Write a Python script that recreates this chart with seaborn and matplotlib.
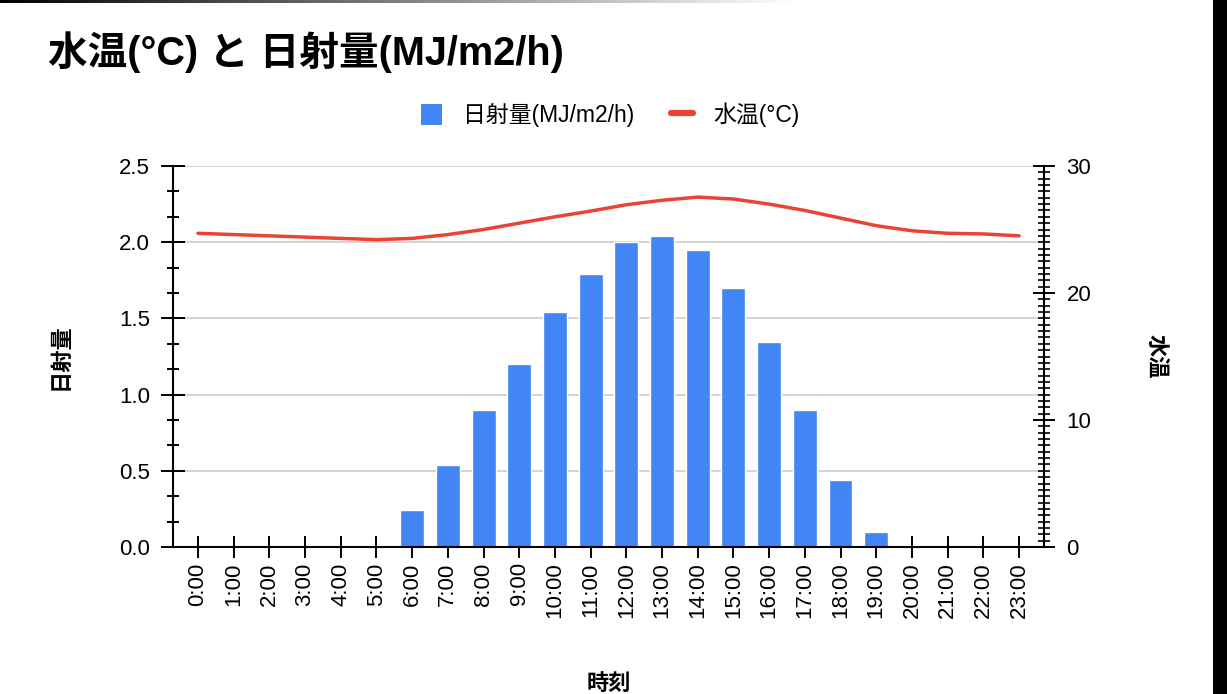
import numpy as np
import pandas as pd
import matplotlib
matplotlib.use("Agg")
import matplotlib.pyplot as plt
import seaborn as sns
from matplotlib.patches import Patch, Rectangle
from matplotlib.lines import Line2D
from matplotlib.ticker import MultipleLocator

# データ
hours = [f"{h}:00" for h in range(24)]
radiation = [0, 0, 0, 0, 0, 0, 0.24, 0.54, 0.90, 1.20, 1.54, 1.79, 2.00, 2.04,
             1.95, 1.70, 1.345, 0.90, 0.44, 0.10, 0, 0, 0, 0]
water_temp = [24.7, 24.6, 24.5, 24.4, 24.3, 24.2, 24.3, 24.6, 25.0, 25.5, 26.0, 26.45,
              26.95, 27.3, 27.55, 27.4, 27.0, 26.5, 25.9, 25.3, 24.9, 24.7, 24.65, 24.5]

df = pd.DataFrame({"時刻": hours, "日射量": radiation, "水温": water_temp,
                   "pos": np.arange(len(hours))})

sns.set_theme(style="white")
plt.rcParams["font.family"] = ["Liberation Sans", "Noto Sans CJK JP", "DejaVu Sans"]
plt.rcParams["text.color"] = "black"
plt.rcParams["axes.labelcolor"] = "black"
plt.rcParams["xtick.color"] = "black"
plt.rcParams["ytick.color"] = "black"

blue = "#4285F4"
red = "#EA4335"

fig = plt.figure(figsize=(12.27, 6.94), dpi=100)
ax = fig.add_axes([173 / 1227, 1 - 547 / 694, (1044 - 173) / 1227, (547 - 166) / 694])

sns.barplot(data=df, x="時刻", y="日射量", order=hours, color=blue, width=0.67,
            saturation=1, ax=ax, zorder=2)
ax.set_xlim(-0.7, 23.7)
ax.set_ylim(0, 2.5)
ax.yaxis.set_major_locator(MultipleLocator(0.5))
ax.yaxis.set_minor_locator(MultipleLocator(0.5 / 3))
ax.grid(axis="y", color="#cccccc", linewidth=1.2, zorder=0)
ax.set_axisbelow(True)

ax2 = ax.twinx()
sns.lineplot(data=df, x="pos", y="水温", color=red, linewidth=2.5, ax=ax2)
ax2.set_ylim(0, 30)
ax2.set_xlim(-0.7, 23.7)
ax2.yaxis.set_major_locator(MultipleLocator(10))
ax2.yaxis.set_minor_locator(MultipleLocator(0.5))

for a in (ax, ax2):
    for s in a.spines.values():
        s.set_visible(False)
ax.spines["left"].set_visible(True)
ax.spines["bottom"].set_visible(True)
ax2.spines["right"].set_visible(True)
for s in ("left", "bottom"):
    ax.spines[s].set_color("black")
    ax.spines[s].set_linewidth(1.5)
ax2.spines["right"].set_color("black")
ax2.spines["right"].set_linewidth(1.5)

ax.tick_params(axis="x", which="major", direction="inout", length=16, width=1.4,
               labelsize=16, labelrotation=90, pad=3, bottom=True)
ax.tick_params(axis="y", which="major", direction="inout", length=17, width=1.4,
               labelsize=16, pad=8, left=True)
ax.tick_params(axis="y", which="minor", direction="inout", length=8.5, width=1.4,
               left=True)
ax2.tick_params(axis="y", which="major", direction="inout", length=16.5, width=1.4,
                labelsize=16, pad=8, right=True)
ax2.tick_params(axis="y", which="minor", direction="inout", length=8, width=1.2,
                right=True)
for lbl in ax.get_xticklabels():
    lbl.set_verticalalignment("top")

ax.set_xlabel("時刻", fontsize=16, fontweight="bold", labelpad=40)
ax.set_ylabel("日射量", fontsize=16, fontweight="bold", labelpad=34)
ax2.set_ylabel("水温", fontsize=16, fontweight="bold", labelpad=46, rotation=-90,
               va="center")
ax2.set_xlabel("")

fig.text(48 / 1227, 1 - 52 / 694, "水温(°C) と 日射量(MJ/m2/h)", fontsize=28.5,
         fontweight="bold", va="center", ha="left")

handles = [Patch(facecolor=blue, edgecolor="none"),
           Line2D([0], [0], color=red, linewidth=4.5)]
fig.legend(handles, ["日射量(MJ/m2/h)", "水温(°C)"], loc="center",
           bbox_to_anchor=(610 / 1227, 1 - 115 / 694), ncol=2, frameon=False,
           fontsize=16.5, handlelength=0.95, handleheight=1.05, columnspacing=1.6,
           handletextpad=0.9)

# スクリーンショットの枠
fig.patches.append(Rectangle((1213 / 1227, 0), 14 / 1227, 1, transform=fig.transFigure,
                             facecolor="black", edgecolor="none", zorder=10))
ax_top = fig.add_axes([0, 1 - 3 / 694, 800 / 1227, 3 / 694])
ax_top.imshow(np.linspace(0, 1, 256)[None, :], cmap="gray", aspect="auto",
              vmin=0, vmax=1)
ax_top.axis("off")

fig.savefig("out.png", dpi=100)
